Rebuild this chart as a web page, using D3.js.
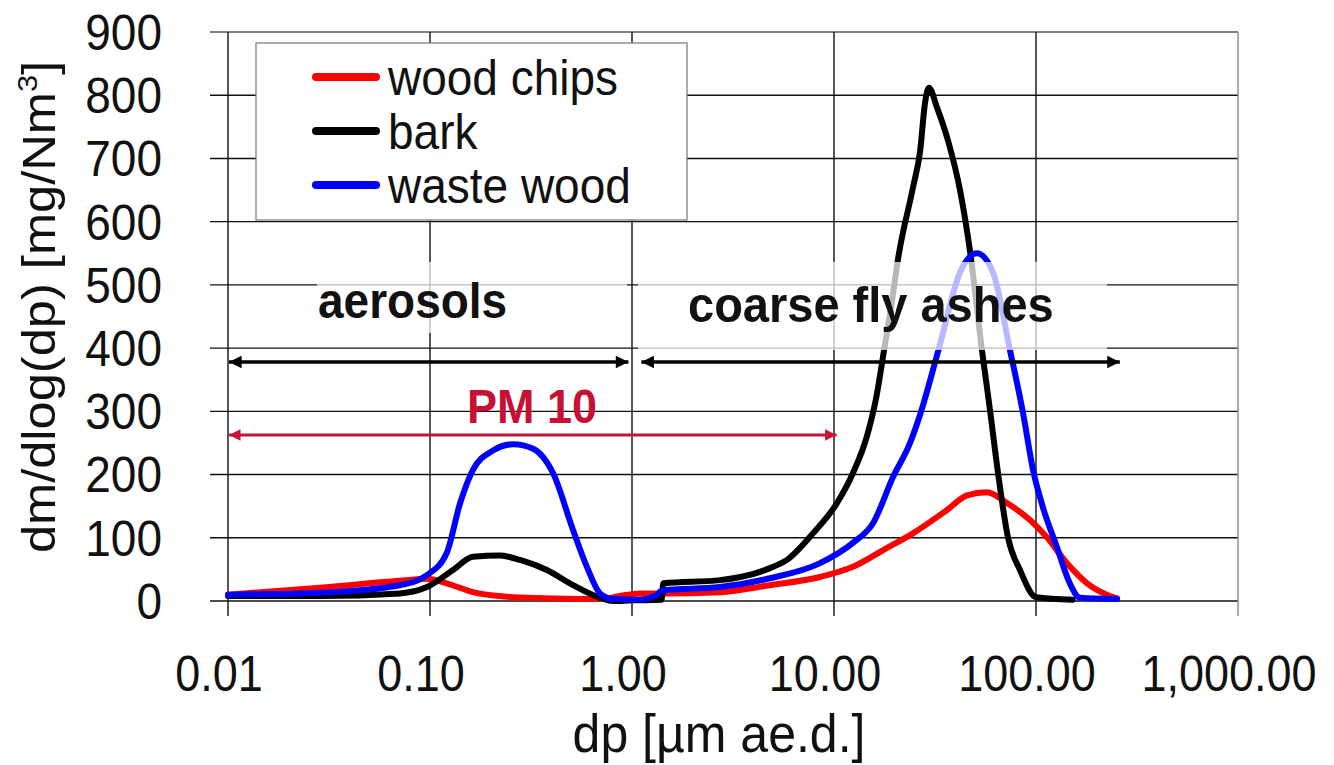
<!DOCTYPE html>
<html>
<head>
<meta charset="utf-8">
<script src="https://cdn.jsdelivr.net/npm/d3@7"></script>
<style>
  body { margin: 0; background: #fff; }
  svg text { font-family: "Liberation Sans", Arial, sans-serif; }
</style>
</head>
<body>
<div id="chart"></div>
<script>
// x ticks (log scale) and their labels
var dpTicks = [0.01, 0.1, 1, 10, 100, 1000];
var dpLabels = ["0.01", "0.10", "1.00", "10.00", "100.00", "1,000.00"];
var yTicks = [0, 100, 200, 300, 400, 500, 600, 700, 800, 900];

// series: [dp in µm, dm/dlog(dp)]
var woodChips = [[0.01,10],[0.0285,21],[0.071,32],[0.0966,35],[0.121,28],[0.163,14],[0.258,6],
  [0.407,4],[0.695,3],[0.873,8],[1.096,12],[1.42,12],[2.73,14],[4.82,25],[8.53,38],[12.4,54],
  [18.3,84],[24.6,107],[36.3,144],[45.5,167],[57.2,172],[71.8,155],[93.4,128],[113,101],
  [142,60],[179,28],[224,10],[252,4]];
var bark = [[0.01,8],[0.0285,8],[0.071,12],[0.0966,22],[0.13,49],[0.163,70],[0.222,72],
  [0.279,65],[0.379,49],[0.511,25],[0.695,5],[0.806,0],[1.0,1],[1.40,2],[1.43,28],[2.73,33],
  [4.82,52],[5.85,65],[7.87,107],[10.35,155],[12.4,202],[14.6,262],[16.1,318],[17.7,397],
  [19.4,476],[20.7,539],[24.6,654],[26.7,712],[28.2,787],[29.5,812],[32.4,780],[36.7,728],
  [42.1,649],[47.1,554],[54.0,397],[59.2,302],[64.9,202],[72.6,101],[83.3,49],[100,6],[152,2]];
var wasteWood = [[0.01,10],[0.0285,13],[0.071,25],[0.0966,41],[0.121,76],[0.141,155],[0.163,207],
  [0.205,238],[0.258,248],[0.324,241],[0.407,202],[0.511,112],[0.598,54],[0.695,12],[0.806,3],
  [1.096,2],[1.30,8],[1.42,17],[2.73,22],[4.82,36],[8.53,60],[12.4,92],[15.6,123],[19.6,196],
  [23.8,250],[26.7,295],[32.9,397],[42.1,520],[51.0,550],[61.2,520],[74.3,397],[86.3,297],
  [96.7,207],[108,149],[127,85],[147,28],[165,5],[252,3]];

var seriesNames = ["wood chips", "bark", "waste wood"];
var seriesColors = ["#ff0000", "#000000", "#0000ff"];

// ranges of the size classes drawn as arrows
var aerosolRange = [0.01, 0.96];
var coarseRange = [1.1, 260];
var pm10Range = [0.01, 10.3];

function chart() {
  var w = 1334;
  var h = 765;

  var x = d3.scaleLog().domain([0.01, 1000]).range([228, 1238]);
  var y = d3.scaleLinear().domain([0, 900]).range([601, 32]);

  var svg = d3.select("#chart")
              .append("svg")
              .attr("width", w)
              .attr("height", h);

  var defs = svg.append("defs");
  function marker(id, color, flip) {
    defs.append("marker")
        .attr("id", id)
        .attr("viewBox", "0 0 10 10")
        .attr("refX", flip ? 0 : 10)
        .attr("refY", 5)
        .attr("markerWidth", 4.2)
        .attr("markerHeight", 3.6)
        .attr("markerUnits", "strokeWidth")
        .attr("orient", "auto")
        .append("path")
        .attr("d", flip ? "M10,0 L0,5 L10,10 Z" : "M0,0 L10,5 L0,10 Z")
        .attr("fill", color);
  }
  marker("blkEnd", "#000", false);
  marker("blkStart", "#000", true);
  marker("redEnd", "#c8143c", false);
  marker("redStart", "#c8143c", true);

  // horizontal grid + y ticks
  svg.selectAll(".hgrid")
     .data(yTicks)
     .enter()
     .append("line")
     .attr("x1", 210)
     .attr("x2", x(1000))
     .attr("y1", function(d) { return y(d); })
     .attr("y2", function(d) { return y(d); })
     .attr("stroke", function(d) { return d == 900 ? "#555" : "#111"; })
     .attr("stroke-width", 1.4);

  // vertical grid + x ticks
  svg.selectAll(".vgrid")
     .data(dpTicks)
     .enter()
     .append("line")
     .attr("x1", function(d) { return x(d); })
     .attr("x2", function(d) { return x(d); })
     .attr("y1", y(900))
     .attr("y2", y(0) + 15)
     .attr("stroke", function(d) { return d == 1000 ? "#888" : "#111"; })
     .attr("stroke-width", 1.4);

  // y tick labels
  svg.selectAll(".ylab")
     .data(yTicks)
     .enter()
     .append("text")
     .attr("transform", function(d) { return "translate(162," + y(d) + ") scale(1,1.08)"; })
     .attr("dy", "0.36em")
     .attr("text-anchor", "end")
     .attr("font-size", 46)
     .attr("fill", "#111")
     .text(function(d) { return d; });

  // x tick labels
  svg.selectAll(".xlab")
     .data(dpTicks)
     .enter()
     .append("text")
     .attr("transform", function(d) { return "translate(" + (x(d) - 9) + ",673) scale(1,1.12)"; })
     .attr("dy", "0.36em")
     .attr("text-anchor", "middle")
     .attr("font-size", 45)
     .attr("fill", "#111")
     .text(function(d, i) { return dpLabels[i]; });

  // axis titles
  svg.append("text")
     .attr("transform", "translate(719,752) scale(1,1.06)")
     .attr("text-anchor", "middle")
     .attr("font-size", 50)
     .attr("fill", "#111")
     .text("dp [µm ae.d.]");

  var yt = svg.append("text")
     .attr("transform", "translate(55,307) rotate(-90) scale(1.1,1)")
     .attr("text-anchor", "middle")
     .attr("font-size", 46)
     .attr("fill", "#111");
  yt.append("tspan").text("dm/dlog(dp) [mg/Nm");
  yt.append("tspan").attr("font-size", 28).attr("dy", -18).text("3");
  yt.append("tspan").attr("dy", 18).text("]");

  // curves
  var line = d3.line()
               .x(function(d) { return x(d[0]); })
               .y(function(d) { return y(d[1]); })
               .curve(d3.curveMonotoneX);

  var allSeries = [woodChips, bark, wasteWood];
  svg.selectAll(".curve")
     .data(allSeries)
     .enter()
     .append("path")
     .attr("d", line)
     .attr("fill", "none")
     .attr("stroke", function(d, i) { return seriesColors[i]; })
     .attr("stroke-width", 6)
     .attr("stroke-linejoin", "round")
     .attr("stroke-linecap", "round");

  // half transparent text boxes of the labels
  svg.append("rect")
     .attr("x", 317).attr("y", 262)
     .attr("width", 310).attr("height", 71)
     .attr("fill", "#fff").attr("opacity", 0.72);
  svg.append("rect")
     .attr("x", 638).attr("y", 262)
     .attr("width", 469).attr("height", 88)
     .attr("fill", "#fff").attr("opacity", 0.72);

  svg.append("text")
     .attr("transform", "translate(318,318) scale(1,1.08)")
     .attr("font-size", 46)
     .attr("font-weight", "bold")
     .attr("fill", "#111")
     .text("aerosols");
  svg.append("text")
     .attr("transform", "translate(688,322) scale(1,1.08)")
     .attr("font-size", 47)
     .attr("font-weight", "bold")
     .attr("fill", "#111")
     .text("coarse fly ashes");

  // arrows
  function arrow(r, yy, color, s, e, sw) {
    svg.append("line")
       .attr("x1", x(r[0]) + 1).attr("x2", x(r[1]))
       .attr("y1", yy).attr("y2", yy)
       .attr("stroke", color)
       .attr("stroke-width", sw)
       .attr("marker-start", "url(#" + s + ")")
       .attr("marker-end", "url(#" + e + ")");
  }
  arrow(aerosolRange, 362, "#000", "blkStart", "blkEnd", 3.5);
  arrow(coarseRange, 362, "#000", "blkStart", "blkEnd", 3.5);
  arrow(pm10Range, 435, "#c8143c", "redStart", "redEnd", 3.2);

  svg.append("text")
     .attr("transform", "translate(467,423) scale(1,1.08)")
     .attr("font-size", 45)
     .attr("font-weight", "bold")
     .attr("fill", "#c80f34")
     .text("PM 10");

  // legend
  var legend = svg.append("g");
  legend.append("rect")
        .attr("x", 256).attr("y", 43)
        .attr("width", 431).attr("height", 177)
        .attr("fill", "#fff")
        .attr("stroke", "#777")
        .attr("stroke-width", 1.2);

  var items = legend.selectAll(".item")
                    .data(seriesNames)
                    .enter()
                    .append("g")
                    .attr("transform", function(d, i) { return "translate(0," + (77 + i * 54) + ")"; });
  items.append("line")
       .attr("x1", 316).attr("x2", 376)
       .attr("stroke", function(d, i) { return seriesColors[i]; })
       .attr("stroke-width", 8)
       .attr("stroke-linecap", "round");
  items.append("text")
       .attr("transform", "translate(388,0) scale(1,1.08)")
       .attr("dy", "0.36em")
       .attr("font-size", 46)
       .attr("fill", "#111")
       .text(function(d) { return d; });
}

window.onload = function() {
  chart();
};
</script>
</body>
</html>
